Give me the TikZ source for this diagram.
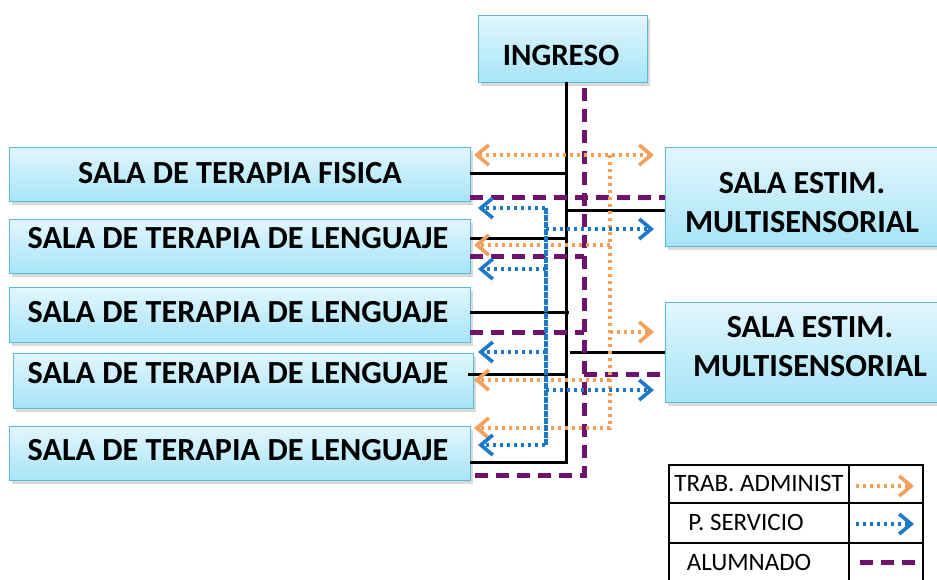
\documentclass[tikz,border=0pt]{standalone}
\usepackage{fontspec}
\setmainfont{Carlito}
\usetikzlibrary{arrows.meta,shadows}
\definecolor{admc}{HTML}{F5A05A}
\definecolor{servc}{HTML}{1C78C8}
\definecolor{alumc}{HTML}{6E146E}
\definecolor{boxline}{HTML}{5AB9D7}
\definecolor{boxtop}{HTML}{E2F6FD}
\definecolor{boxbot}{HTML}{A6E4F8}
\begin{document}
\begin{tikzpicture}[x=1pt,y=-1pt,
  box/.style={draw=boxline, line width=1.2pt, top color=boxtop, bottom color=boxbot,
    drop shadow={shadow xshift=2pt, shadow yshift=-3pt, opacity=0.3},
    inner sep=0pt, anchor=north west},
  lbl/.style={font=\bfseries\fontsize{32.2}{39}\selectfont, text depth=0pt, inner sep=0pt, align=center},
  lgd/.style={font=\fontsize{25}{27}\selectfont, text depth=0pt, inner sep=0pt},
  blk/.style={line width=3pt, black},
  alum/.style={line width=5pt, alumc, dash pattern=on 13pt off 8pt},
  adm/.style={line width=3.6pt, admc, dash pattern=on 3.4pt off 3.6pt},
  serv/.style={line width=3.6pt, servc, dash pattern=on 3.4pt off 3.6pt},
  tipr/.style={-{Straight Barb[length=12pt,width=20pt]}},
  tipb/.style={{Straight Barb[length=12pt,width=20pt]}-{Straight Barb[length=12pt,width=20pt]}},
  cell/.style={line width=2.5pt, black}]
\useasboundingbox (0,0) rectangle (937,579);

% boxes
\node[box, minimum width=169pt, minimum height=67pt] (ing) at (478,15) {};
\node[box, minimum width=461pt, minimum height=54pt] (fis) at (9,147) {};
\node[box, minimum width=461pt, minimum height=54pt] (len1) at (9,219) {};
\node[box, minimum width=461pt, minimum height=55pt] (len2) at (9,287) {};
\node[box, minimum width=460pt, minimum height=55pt] (len3) at (13,353) {};
\node[box, minimum width=461pt, minimum height=54pt] (len4) at (9,426) {};
\node[box, minimum width=290pt, minimum height=99pt] (est1) at (665,147) {};
\node[box, minimum width=290pt, minimum height=100pt] (est2) at (665,302) {};

% labels
\node[lbl, font=\bfseries\fontsize{31}{39}\selectfont] (tIng) at (561,55) {INGRESO};
\node[lbl] (tFis) at (240,173) {SALA DE TERAPIA FISICA};
\node[lbl] (tLen1) at (238,238) {SALA DE TERAPIA DE LENGUAJE};
\node[lbl] (tLen2) at (238,312) {SALA DE TERAPIA DE LENGUAJE};
\node[lbl] (tLen3) at (238,373) {SALA DE TERAPIA DE LENGUAJE};
\node[lbl] (tLen4) at (238,450) {SALA DE TERAPIA DE LENGUAJE};
\node[lbl] (tEst1) at (802,202.5) {SALA ESTIM.\\MULTISENSORIAL};
\node[lbl] (tEst2) at (810,346.5) {SALA ESTIM.\\MULTISENSORIAL};

% junction coordinates
\coordinate (tk) at (566,82);
\coordinate (bFis) at (470,173);
\coordinate (bLen1) at (470,238);
\coordinate (bLen2) at (470,312);
\coordinate (bLen3) at (468,374);
\coordinate (bLen4) at (470,462);
\coordinate (bEst1) at (665,210);
\coordinate (bEst2) at (665,352);

\coordinate (pTop) at (584,88);
\coordinate (pLen4) at (470,475);
\coordinate (pFis) at (470,197);
\coordinate (pEst1) at (665,197);
\coordinate (pLen1) at (470,256);
\coordinate (pLen2) at (470,332);
\coordinate (pEst2) at (665,374);

\coordinate (oFis) at (474,155);
\coordinate (oEst1) at (654,155);
\coordinate (oTop) at (610,155);
\coordinate (oLen1) at (474,245);
\coordinate (oEst2) at (654,332);
\coordinate (oLen3) at (474,380);
\coordinate (oLen4) at (474,428);

\coordinate (sTop) at (546,208);
\coordinate (sA) at (478,208);
\coordinate (sEst1) at (654,229);
\coordinate (sLen1) at (478,269);
\coordinate (sLen3) at (478,352);
\coordinate (sEst2) at (654,390);
\coordinate (sD) at (478,445);

% black (solid) connectors
\draw[blk] (tk) -- (tk |- bLen4) -- (bLen4);
\draw[blk] (bFis) -- (bFis -| tk);
\draw[blk] (bLen1) -- (bLen1 -| tk);
\draw[blk] (bLen2) -- ([xshift=3pt]bLen2 -| tk);
\draw[blk] (bLen3) -- (bLen3 -| tk);
\draw[blk] (bEst1 -| tk) -- (bEst1);
\draw[blk] ([xshift=4pt]bEst2 -| tk) -- (bEst2);

% ALUMNADO (purple dashed)
\draw[alum] (pTop) -- (pTop |- pLen4) -- (pLen4);
\draw[alum] (pFis) -- (pEst1);
\draw[alum] (pLen1) -- (pLen1 -| pTop);
\draw[alum] (pLen2) -- (pLen2 -| pTop);
\draw[alum] (pEst2 -| pTop) -- (pEst2);

% TRAB. ADMINIST (orange dotted)
\draw[adm, tipb] (oFis) -- (oEst1);
\draw[adm, tipr] (oTop) -- (oTop |- oLen4) -- (oLen4);
\draw[adm, tipr] (oLen1 -| oTop) -- (oLen1);
\draw[adm, tipr] (oEst2 -| oTop) -- (oEst2);
\draw[adm, tipr] (oLen3 -| oTop) -- (oLen3);

% P. SERVICIO (blue dotted)
\draw[serv, tipr] (sTop |- sD) -- (sTop) -- (sA);
\draw[serv, tipr] (sTop) -- (sTop |- sD) -- (sD);
\draw[serv, tipr] (sEst1 -| sTop) -- (sEst1);
\draw[serv, tipr] (sLen1 -| sTop) -- (sLen1);
\draw[serv, tipr] (sLen3 -| sTop) -- (sLen3);
\draw[serv, tipr] (sEst2 -| sTop) -- (sEst2);

% legend
\coordinate (lgNW) at (669,465);
\coordinate (lgSE) at (923,600);
\coordinate (lgMid) at (849,465);
\draw[cell] (lgNW) rectangle (lgSE);
\draw[cell] (lgMid) -- (lgMid |- lgSE);
\coordinate (r1) at (669,503);
\coordinate (r2) at (669,543);
\draw[cell] (r1) -- (r1 -| lgSE);
\draw[cell] (r2) -- (r2 -| lgSE);
\node[lgd] (lg1) at (759,483) {TRAB. ADMINIST};
\node[lgd] (lg2) at (746,522) {P. SERVICIO};
\node[lgd] (lg3) at (749,562) {ALUMNADO};
\coordinate (la1) at (856,486);
\coordinate (lb1) at (914,486);
\coordinate (la2) at (856,524);
\coordinate (lb2) at (914,524);
\coordinate (la3) at (860,562);
\coordinate (lb3) at (923,562);
\draw[adm, tipr] (la1) -- (lb1);
\draw[serv, tipr] (la2) -- (lb2);
\draw[alum] (la3) -- (lb3);
\end{tikzpicture}
\end{document}
